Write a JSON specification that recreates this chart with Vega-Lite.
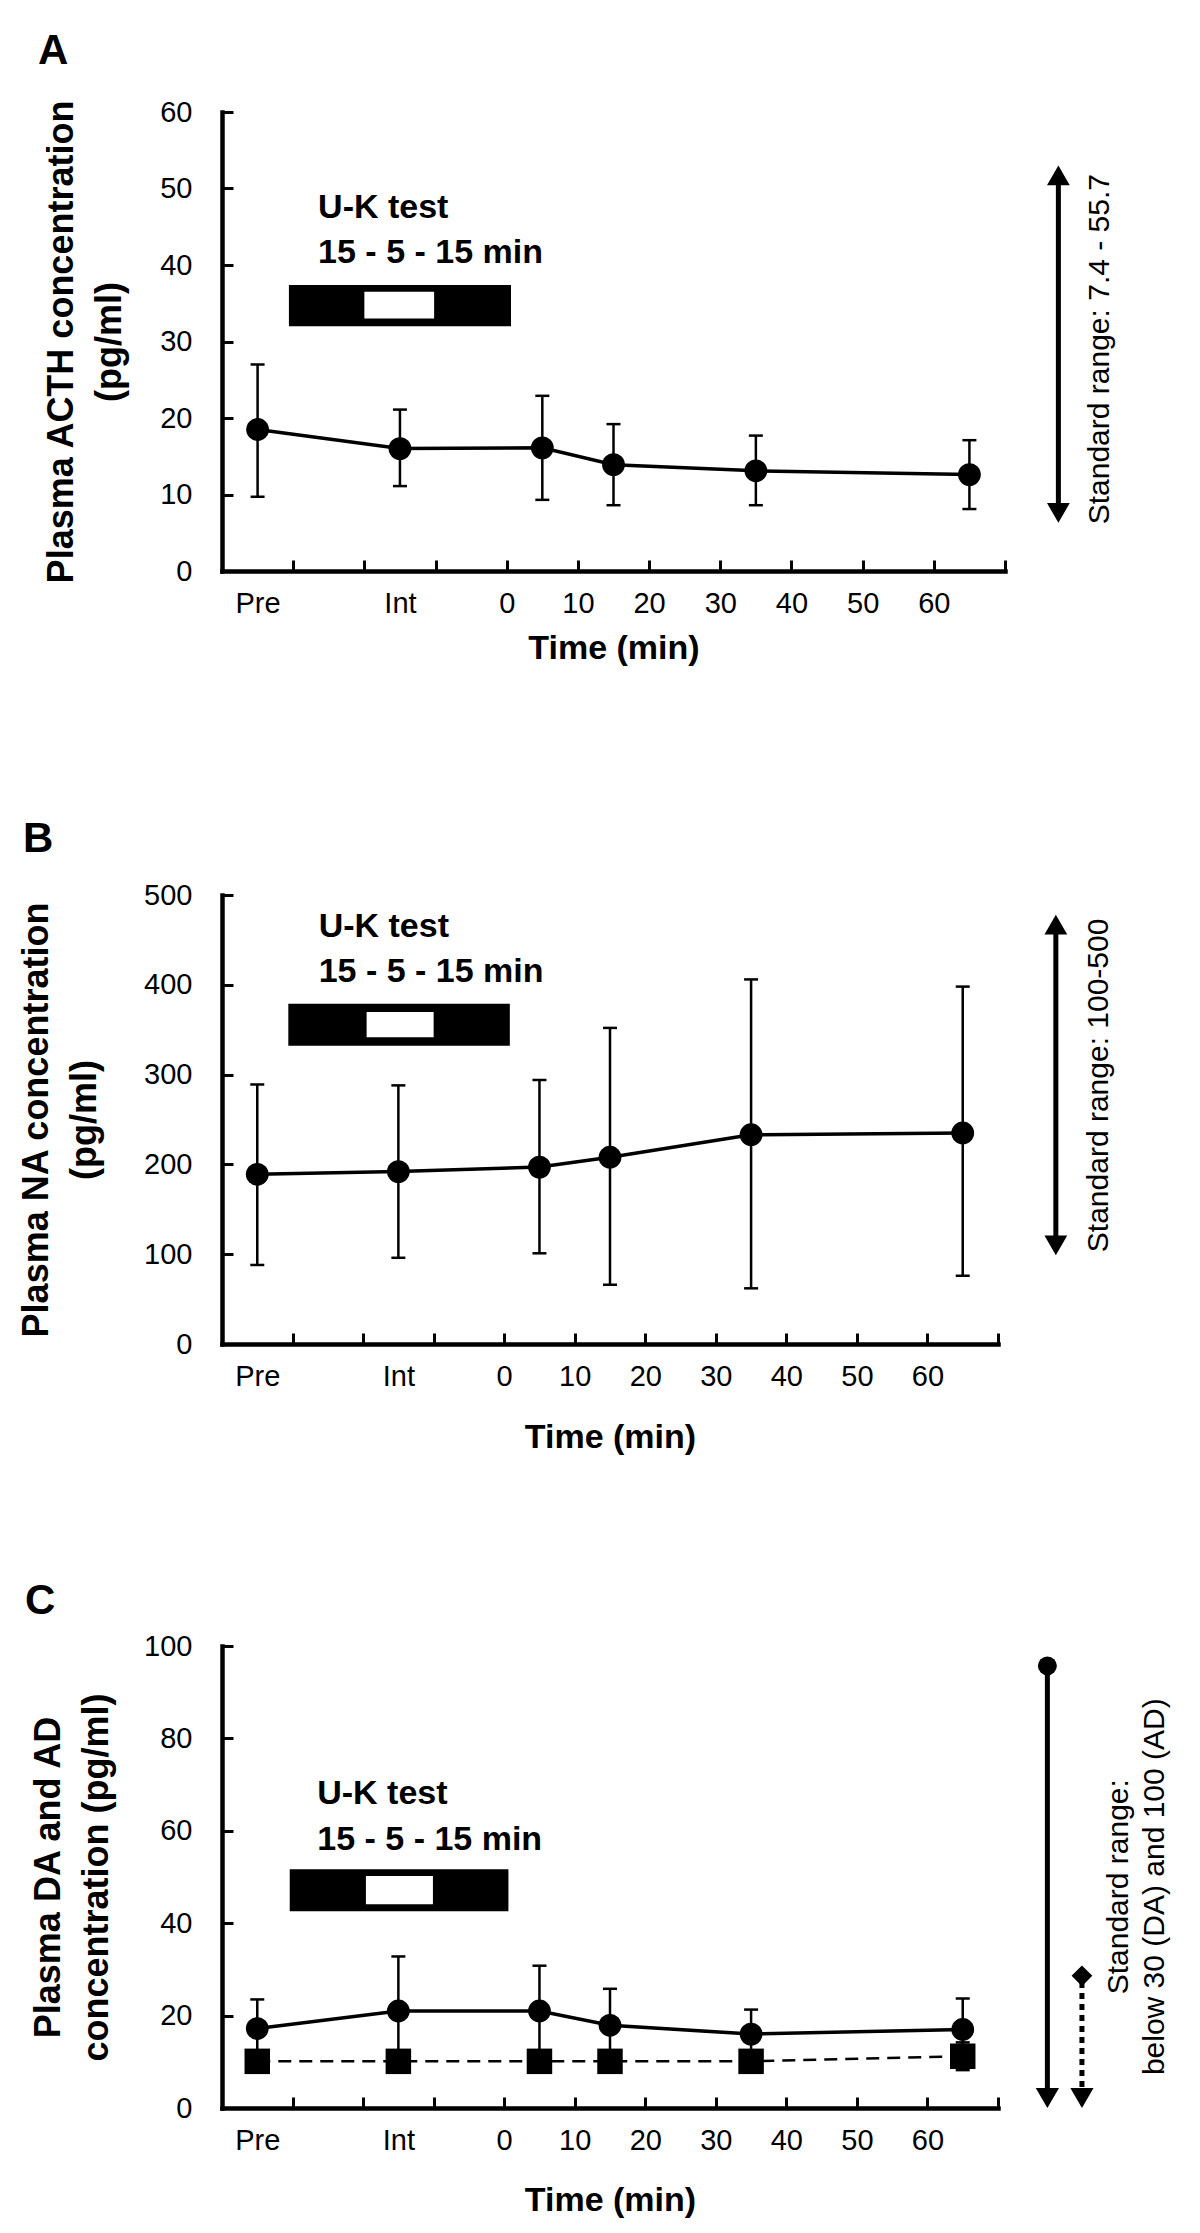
{
  "$schema": "https://vega.github.io/schema/vega-lite/v6.json",
  "padding": {"left": 18, "top": 30, "right": 5, "bottom": 5},
  "background": "white",
  "datasets": {
    "acth": [
      {"t": -35, "mean": 18.5, "lo": 9.7, "hi": 27.0},
      {"t": -15, "mean": 16.0, "lo": 11.1, "hi": 21.1},
      {"t": 5, "mean": 16.1, "lo": 9.3, "hi": 22.9},
      {"t": 15, "mean": 13.9, "lo": 8.6, "hi": 19.2},
      {"t": 35, "mean": 13.1, "lo": 8.6, "hi": 17.7},
      {"t": 65, "mean": 12.6, "lo": 8.1, "hi": 17.1}
    ],
    "na": [
      {"t": -35, "mean": 189, "lo": 88, "hi": 289},
      {"t": -15, "mean": 192, "lo": 96, "hi": 288},
      {"t": 5, "mean": 197, "lo": 101, "hi": 294},
      {"t": 15, "mean": 208, "lo": 66, "hi": 352},
      {"t": 35, "mean": 233, "lo": 62, "hi": 406},
      {"t": 65, "mean": 235, "lo": 76, "hi": 398}
    ],
    "cat": [
      {"series": "AD", "t": -35, "mean": 17.2, "lo": 10.9, "hi": 23.5},
      {"series": "AD", "t": -15, "mean": 21.0, "lo": 9.2, "hi": 32.8},
      {"series": "AD", "t": 5, "mean": 21.0, "lo": 11.2, "hi": 30.8},
      {"series": "AD", "t": 15, "mean": 17.9, "lo": 10.1, "hi": 25.8},
      {"series": "AD", "t": 35, "mean": 16.0, "lo": 10.7, "hi": 21.3},
      {"series": "AD", "t": 65, "mean": 17.0, "lo": 10.2, "hi": 23.7},
      {"series": "DA", "t": -35, "mean": 10.1, "lo": null, "hi": null},
      {"series": "DA", "t": -15, "mean": 10.1, "lo": null, "hi": null},
      {"series": "DA", "t": 5, "mean": 10.1, "lo": null, "hi": null},
      {"series": "DA", "t": 15, "mean": 10.1, "lo": null, "hi": null},
      {"series": "DA", "t": 35, "mean": 10.1, "lo": null, "hi": null},
      {"series": "DA", "t": 65, "mean": 11.2, "lo": 8.2, "hi": 14.2}
    ],
    "uk": [
      {"panel": "A", "part": "outer", "x0": -30.6, "x1": 0.6, "y0": 32.0, "y1": 37.4},
      {"panel": "A", "part": "inner", "x0": -20.0, "x1": -10.2, "y0": 33.0, "y1": 36.5},
      {"panel": "B", "part": "outer", "x0": -30.6, "x1": 0.8, "y0": 332, "y1": 379},
      {"panel": "B", "part": "inner", "x0": -19.5, "x1": -10.0, "y0": 341.5, "y1": 369.8},
      {"panel": "C", "part": "outer", "x0": -30.4, "x1": 0.6, "y0": 42.6, "y1": 51.7},
      {"panel": "C", "part": "inner", "x0": -19.6, "x1": -10.1, "y0": 44.1, "y1": 50.2}
    ],
    "uktext": [
      {"panel": "A", "x": -26.5, "y": 46.1, "text": "U-K test"},
      {"panel": "A", "x": -26.5, "y": 40.2, "text": "15 - 5 - 15 min"},
      {"panel": "B", "x": -26.3, "y": 453.6, "text": "U-K test"},
      {"panel": "B", "x": -26.3, "y": 402.9, "text": "15 - 5 - 15 min"},
      {"panel": "C", "x": -26.5, "y": 65.9, "text": "U-K test"},
      {"panel": "C", "x": -26.5, "y": 55.9, "text": "15 - 5 - 15 min"}
    ],
    "range": [
      {"panel": "A", "kind": "both", "x": 77.5, "lo": 6.3, "hi": 53.0},
      {"panel": "B", "kind": "both", "x": 78.2, "lo": 98.7, "hi": 478},
      {"panel": "C", "kind": "AD", "x": 77.0, "lo": 0, "hi": 95.7},
      {"panel": "C", "kind": "DA", "x": 81.9, "lo": 0, "hi": 28.6}
    ],
    "rangetext": [
      {"panel": "A", "x": 83.3, "y": 29.0, "text": "Standard range: 7.4 - 55.7"},
      {"panel": "B", "x": 84.3, "y": 288, "text": "Standard range: 100-500"},
      {"panel": "C", "x": 87.2, "y": 47.9, "text": "Standard range:\nbelow 30 (DA) and 100 (AD)"}
    ]
  },
  "resolve": {"scale": {"x": "independent", "y": "independent"}},
  "bounds": "flush",
  "spacing": 302,
  "vconcat": [
    {
      "width": 783,
      "height": 459,
      "title": {"text": "A", "dx": -184, "offset": 25},
      "layer": [
        {
          "data": {"name": "uk"},
          "transform": [{"filter": "datum.panel == 'A'"}],
          "mark": {"type": "rect", "strokeWidth": 0},
          "encoding": {
            "x": {"field": "x0", "type": "quantitative", "scale": {"domain": [-40, 70], "nice": false, "zero": false},
              "axis": {"values": [-35, -30, -20, -15, -10, 0, 10, 20, 30, 40, 50, 60, 70],
                "labelExpr": "datum.value == -35 ? 'Pre' : (datum.value == -15 ? 'Int' : ((datum.value >= 0 && datum.value <= 60) ? datum.label : ''))",
                "tickOpacity": {"condition": {"test": "datum.value == -35 || datum.value == -15", "value": 0}, "value": 1},
                "title": "Time (min)", "titlePadding": 13}},
            "x2": {"field": "x1"},
            "y": {"field": "y0", "type": "quantitative", "scale": {"domain": [0, 60], "nice": false, "zero": false},
              "axis": {"values": [0, 10, 20, 30, 40, 50, 60], "title": ["Plasma ACTH concentration", "(pg/ml)"], "titlePadding": 31}},
            "y2": {"field": "y1"},
            "color": {"field": "part", "type": "nominal", "scale": {"domain": ["outer", "inner"], "range": ["black", "white"]}, "legend": null}
          }
        },
        {
          "data": {"name": "uktext"},
          "transform": [{"filter": "datum.panel == 'A'"}],
          "mark": {"type": "text", "align": "left", "baseline": "alphabetic", "fontSize": 34, "fontWeight": "bold", "font": "Liberation Sans", "color": "black"},
          "encoding": {
            "x": {"field": "x", "type": "quantitative"},
            "y": {"field": "y", "type": "quantitative"},
            "text": {"field": "text", "type": "nominal"}
          }
        },
        {
          "data": {"name": "acth"},
          "mark": {"type": "rule", "color": "black", "strokeWidth": 2.5},
          "encoding": {
            "x": {"field": "t", "type": "quantitative"},
            "y": {"field": "lo", "type": "quantitative"},
            "y2": {"field": "hi"}
          }
        },
        {
          "data": {"name": "acth"},
          "mark": {"type": "tick", "orient": "horizontal", "size": 14, "thickness": 2.5, "color": "black", "opacity": 1},
          "encoding": {
            "x": {"field": "t", "type": "quantitative"},
            "y": {"field": "lo", "type": "quantitative"}
          }
        },
        {
          "data": {"name": "acth"},
          "mark": {"type": "tick", "orient": "horizontal", "size": 14, "thickness": 2.5, "color": "black", "opacity": 1},
          "encoding": {
            "x": {"field": "t", "type": "quantitative"},
            "y": {"field": "hi", "type": "quantitative"}
          }
        },
        {
          "data": {"name": "acth"},
          "mark": {"type": "line", "color": "black", "strokeWidth": 3.5},
          "encoding": {
            "x": {"field": "t", "type": "quantitative"},
            "y": {"field": "mean", "type": "quantitative"}
          }
        },
        {
          "data": {"name": "acth"},
          "mark": {"type": "point", "shape": "circle", "filled": true, "size": 520, "color": "black", "opacity": 1},
          "encoding": {
            "x": {"field": "t", "type": "quantitative"},
            "y": {"field": "mean", "type": "quantitative"}
          }
        },
        {
          "data": {"name": "range"},
          "transform": [{"filter": "datum.panel == 'A'"}],
          "mark": {"type": "rule", "color": "black", "strokeWidth": 5, "yOffset": -9.7, "y2Offset": 9.7},
          "encoding": {
            "x": {"field": "x", "type": "quantitative"},
            "y": {"field": "lo", "type": "quantitative"},
            "y2": {"field": "hi"}
          }
        },
        {
          "data": {"name": "range"},
          "transform": [{"filter": "datum.panel == 'A'"}],
          "mark": {"type": "point", "shape": "triangle-up", "filled": true, "size": 520, "color": "black", "opacity": 1, "yOffset": 9.9},
          "encoding": {
            "x": {"field": "x", "type": "quantitative"},
            "y": {"field": "hi", "type": "quantitative"}
          }
        },
        {
          "data": {"name": "range"},
          "transform": [{"filter": "datum.panel == 'A'"}],
          "mark": {"type": "point", "shape": "triangle-down", "filled": true, "size": 520, "color": "black", "opacity": 1, "yOffset": -9.9},
          "encoding": {
            "x": {"field": "x", "type": "quantitative"},
            "y": {"field": "lo", "type": "quantitative"}
          }
        },
        {
          "data": {"name": "rangetext"},
          "transform": [{"filter": "datum.panel == 'A'"}],
          "mark": {"type": "text", "angle": 270, "align": "center", "baseline": "middle", "fontSize": 30, "font": "Liberation Sans", "color": "black", "lineBreak": "\n", "lineHeight": 36},
          "encoding": {
            "x": {"field": "x", "type": "quantitative"},
            "y": {"field": "y", "type": "quantitative"},
            "text": {"field": "text", "type": "nominal"}
          }
        }
      ]
    },
    {
      "width": 776,
      "height": 471,
      "title": {"text": "B", "dx": -199, "offset": 12},
      "layer": [
        {
          "data": {"name": "uk"},
          "transform": [{"filter": "datum.panel == 'B'"}],
          "mark": {"type": "rect", "strokeWidth": 0},
          "encoding": {
            "x": {"field": "x0", "type": "quantitative", "scale": {"domain": [-40, 70], "nice": false, "zero": false},
              "axis": {"values": [-35, -30, -20, -15, -10, 0, 10, 20, 30, 40, 50, 60, 70],
                "labelExpr": "datum.value == -35 ? 'Pre' : (datum.value == -15 ? 'Int' : ((datum.value >= 0 && datum.value <= 60) ? datum.label : ''))",
                "tickOpacity": {"condition": {"test": "datum.value == -35 || datum.value == -15", "value": 0}, "value": 1},
                "title": "Time (min)", "titlePadding": 29}},
            "x2": {"field": "x1"},
            "y": {"field": "y0", "type": "quantitative", "scale": {"domain": [0, 500], "nice": false, "zero": false, "range": [471, 22]},
              "axis": {"values": [0, 100, 200, 300, 400, 500], "title": ["Plasma NA concentration", "(pg/ml)"], "titlePadding": 40}},
            "y2": {"field": "y1"},
            "color": {"field": "part", "type": "nominal", "scale": {"domain": ["outer", "inner"], "range": ["black", "white"]}, "legend": null}
          }
        },
        {
          "data": {"name": "uktext"},
          "transform": [{"filter": "datum.panel == 'B'"}],
          "mark": {"type": "text", "align": "left", "baseline": "alphabetic", "fontSize": 34, "fontWeight": "bold", "font": "Liberation Sans", "color": "black"},
          "encoding": {
            "x": {"field": "x", "type": "quantitative"},
            "y": {"field": "y", "type": "quantitative"},
            "text": {"field": "text", "type": "nominal"}
          }
        },
        {
          "data": {"name": "na"},
          "mark": {"type": "rule", "color": "black", "strokeWidth": 2.5},
          "encoding": {
            "x": {"field": "t", "type": "quantitative"},
            "y": {"field": "lo", "type": "quantitative"},
            "y2": {"field": "hi"}
          }
        },
        {
          "data": {"name": "na"},
          "mark": {"type": "tick", "orient": "horizontal", "size": 14, "thickness": 2.5, "color": "black", "opacity": 1},
          "encoding": {
            "x": {"field": "t", "type": "quantitative"},
            "y": {"field": "lo", "type": "quantitative"}
          }
        },
        {
          "data": {"name": "na"},
          "mark": {"type": "tick", "orient": "horizontal", "size": 14, "thickness": 2.5, "color": "black", "opacity": 1},
          "encoding": {
            "x": {"field": "t", "type": "quantitative"},
            "y": {"field": "hi", "type": "quantitative"}
          }
        },
        {
          "data": {"name": "na"},
          "mark": {"type": "line", "color": "black", "strokeWidth": 3.5},
          "encoding": {
            "x": {"field": "t", "type": "quantitative"},
            "y": {"field": "mean", "type": "quantitative"}
          }
        },
        {
          "data": {"name": "na"},
          "mark": {"type": "point", "shape": "circle", "filled": true, "size": 520, "color": "black", "opacity": 1},
          "encoding": {
            "x": {"field": "t", "type": "quantitative"},
            "y": {"field": "mean", "type": "quantitative"}
          }
        },
        {
          "data": {"name": "range"},
          "transform": [{"filter": "datum.panel == 'B'"}],
          "mark": {"type": "rule", "color": "black", "strokeWidth": 5, "yOffset": -9.7, "y2Offset": 9.7},
          "encoding": {
            "x": {"field": "x", "type": "quantitative"},
            "y": {"field": "lo", "type": "quantitative"},
            "y2": {"field": "hi"}
          }
        },
        {
          "data": {"name": "range"},
          "transform": [{"filter": "datum.panel == 'B'"}],
          "mark": {"type": "point", "shape": "triangle-up", "filled": true, "size": 520, "color": "black", "opacity": 1, "yOffset": 9.9},
          "encoding": {
            "x": {"field": "x", "type": "quantitative"},
            "y": {"field": "hi", "type": "quantitative"}
          }
        },
        {
          "data": {"name": "range"},
          "transform": [{"filter": "datum.panel == 'B'"}],
          "mark": {"type": "point", "shape": "triangle-down", "filled": true, "size": 520, "color": "black", "opacity": 1, "yOffset": -9.9},
          "encoding": {
            "x": {"field": "x", "type": "quantitative"},
            "y": {"field": "lo", "type": "quantitative"}
          }
        },
        {
          "data": {"name": "rangetext"},
          "transform": [{"filter": "datum.panel == 'B'"}],
          "mark": {"type": "text", "angle": 270, "align": "center", "baseline": "middle", "fontSize": 30, "font": "Liberation Sans", "color": "black", "lineBreak": "\n", "lineHeight": 36},
          "encoding": {
            "x": {"field": "x", "type": "quantitative"},
            "y": {"field": "y", "type": "quantitative"},
            "text": {"field": "text", "type": "nominal"}
          }
        }
      ]
    },
    {
      "width": 776,
      "height": 462,
      "title": {"text": "C", "dx": -197, "offset": 9},
      "layer": [
        {
          "data": {"name": "uk"},
          "transform": [{"filter": "datum.panel == 'C'"}],
          "mark": {"type": "rect", "strokeWidth": 0},
          "encoding": {
            "x": {"field": "x0", "type": "quantitative", "scale": {"domain": [-40, 70], "nice": false, "zero": false},
              "axis": {"values": [-35, -30, -20, -15, -10, 0, 10, 20, 30, 40, 50, 60, 70],
                "labelExpr": "datum.value == -35 ? 'Pre' : (datum.value == -15 ? 'Int' : ((datum.value >= 0 && datum.value <= 60) ? datum.label : ''))",
                "tickOpacity": {"condition": {"test": "datum.value == -35 || datum.value == -15", "value": 0}, "value": 1},
                "title": "Time (min)", "titlePadding": 28}},
            "x2": {"field": "x1"},
            "y": {"field": "y0", "type": "quantitative", "scale": {"domain": [0, 100], "nice": false, "zero": false},
              "axis": {"values": [0, 20, 40, 60, 80, 100], "title": ["Plasma DA and AD", "concentration (pg/ml)"], "titlePadding": 28}},
            "y2": {"field": "y1"},
            "color": {"field": "part", "type": "nominal", "scale": {"domain": ["outer", "inner"], "range": ["black", "white"]}, "legend": null}
          }
        },
        {
          "data": {"name": "uktext"},
          "transform": [{"filter": "datum.panel == 'C'"}],
          "mark": {"type": "text", "align": "left", "baseline": "alphabetic", "fontSize": 34, "fontWeight": "bold", "font": "Liberation Sans", "color": "black"},
          "encoding": {
            "x": {"field": "x", "type": "quantitative"},
            "y": {"field": "y", "type": "quantitative"},
            "text": {"field": "text", "type": "nominal"}
          }
        },
        {
          "data": {"name": "cat"},
          "transform": [{"filter": "isValid(datum.lo)"}],
          "mark": {"type": "rule", "color": "black", "strokeWidth": 2.5},
          "encoding": {
            "x": {"field": "t", "type": "quantitative"},
            "y": {"field": "lo", "type": "quantitative"},
            "y2": {"field": "hi"}
          }
        },
        {
          "data": {"name": "cat"},
          "transform": [{"filter": "isValid(datum.lo)"}],
          "mark": {"type": "tick", "orient": "horizontal", "size": 14, "thickness": 2.5, "color": "black", "opacity": 1},
          "encoding": {
            "x": {"field": "t", "type": "quantitative"},
            "y": {"field": "lo", "type": "quantitative"}
          }
        },
        {
          "data": {"name": "cat"},
          "transform": [{"filter": "isValid(datum.hi)"}],
          "mark": {"type": "tick", "orient": "horizontal", "size": 14, "thickness": 2.5, "color": "black", "opacity": 1},
          "encoding": {
            "x": {"field": "t", "type": "quantitative"},
            "y": {"field": "hi", "type": "quantitative"}
          }
        },
        {
          "data": {"name": "cat"},
          "transform": [{"filter": "datum.series == 'DA'"}],
          "mark": {"type": "line", "color": "black", "strokeWidth": 2.5, "strokeDash": [13, 8]},
          "encoding": {
            "x": {"field": "t", "type": "quantitative"},
            "y": {"field": "mean", "type": "quantitative"}
          }
        },
        {
          "data": {"name": "cat"},
          "transform": [{"filter": "datum.series == 'AD'"}],
          "mark": {"type": "line", "color": "black", "strokeWidth": 3.5},
          "encoding": {
            "x": {"field": "t", "type": "quantitative"},
            "y": {"field": "mean", "type": "quantitative"}
          }
        },
        {
          "data": {"name": "cat"},
          "transform": [{"filter": "datum.series == 'DA'"}],
          "mark": {"type": "point", "shape": "square", "filled": true, "size": 650, "color": "black", "opacity": 1},
          "encoding": {
            "x": {"field": "t", "type": "quantitative"},
            "y": {"field": "mean", "type": "quantitative"}
          }
        },
        {
          "data": {"name": "cat"},
          "transform": [{"filter": "datum.series == 'AD'"}],
          "mark": {"type": "point", "shape": "circle", "filled": true, "size": 520, "color": "black", "opacity": 1},
          "encoding": {
            "x": {"field": "t", "type": "quantitative"},
            "y": {"field": "mean", "type": "quantitative"}
          }
        },
        {
          "data": {"name": "range"},
          "transform": [{"filter": "datum.panel == 'C' && datum.kind == 'AD'"}],
          "mark": {"type": "rule", "color": "black", "strokeWidth": 5, "yOffset": -10},
          "encoding": {
            "x": {"field": "x", "type": "quantitative"},
            "y": {"field": "lo", "type": "quantitative"},
            "y2": {"field": "hi"}
          }
        },
        {
          "data": {"name": "range"},
          "transform": [{"filter": "datum.panel == 'C' && datum.kind == 'DA'"}],
          "mark": {"type": "rule", "color": "black", "strokeWidth": 5, "strokeDash": [6, 5], "yOffset": -10},
          "encoding": {
            "x": {"field": "x", "type": "quantitative"},
            "y": {"field": "lo", "type": "quantitative"},
            "y2": {"field": "hi"}
          }
        },
        {
          "data": {"name": "range"},
          "transform": [{"filter": "datum.panel == 'C'"}],
          "mark": {"type": "point", "shape": "triangle-down", "filled": true, "size": 540, "color": "black", "opacity": 1, "yOffset": -10},
          "encoding": {
            "x": {"field": "x", "type": "quantitative"},
            "y": {"field": "lo", "type": "quantitative"}
          }
        },
        {
          "data": {"name": "range"},
          "transform": [{"filter": "datum.panel == 'C' && datum.kind == 'AD'"}],
          "mark": {"type": "point", "shape": "circle", "filled": true, "size": 360, "color": "black", "opacity": 1},
          "encoding": {
            "x": {"field": "x", "type": "quantitative"},
            "y": {"field": "hi", "type": "quantitative"}
          }
        },
        {
          "data": {"name": "range"},
          "transform": [{"filter": "datum.panel == 'C' && datum.kind == 'DA'"}],
          "mark": {"type": "point", "shape": "diamond", "filled": true, "size": 430, "color": "black", "opacity": 1},
          "encoding": {
            "x": {"field": "x", "type": "quantitative"},
            "y": {"field": "hi", "type": "quantitative"}
          }
        },
        {
          "data": {"name": "rangetext"},
          "transform": [{"filter": "datum.panel == 'C'"}],
          "mark": {"type": "text", "angle": 270, "align": "center", "baseline": "middle", "fontSize": 30, "font": "Liberation Sans", "color": "black", "lineBreak": "\n", "lineHeight": 36},
          "encoding": {
            "x": {"field": "x", "type": "quantitative"},
            "y": {"field": "y", "type": "quantitative"},
            "text": {"field": "text", "type": "nominal"}
          }
        }
      ]
    }
  ],
  "config": {
    "view": {"stroke": null},
    "font": "Liberation Sans",
    "axis": {
      "domainColor": "black", "domainWidth": 4.5, "domainCap": "square",
      "tickColor": "black", "tickWidth": 3, "tickSize": -11,
      "labelFont": "Liberation Sans", "labelFontSize": 29, "labelColor": "black",
      "titleFont": "Liberation Sans", "titleFontWeight": "bold", "titleColor": "black",
      "grid": false, "labelFlush": false, "labelOverlap": false
    },
    "axisX": {"labelPadding": 29, "titleFontSize": 34},
    "axisY": {"labelPadding": 41, "titleFontSize": 36, "titleLineHeight": 48},
    "title": {"font": "Liberation Sans", "fontSize": 42, "fontWeight": "bold", "color": "black", "anchor": "start", "frame": "group"}
  }
}
